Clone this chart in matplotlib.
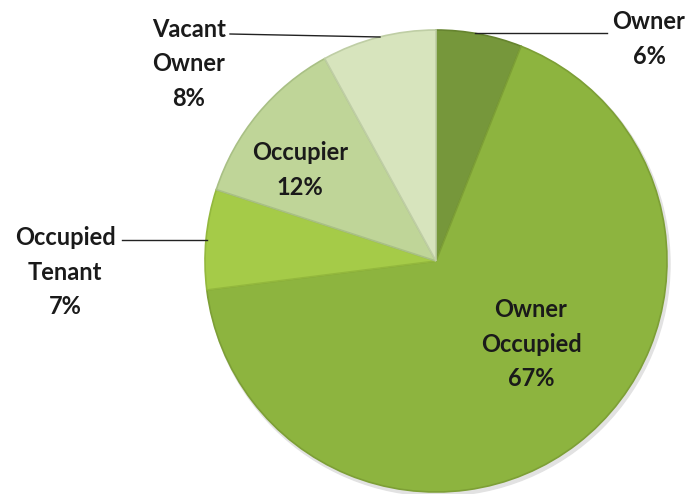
import matplotlib.pyplot as plt

labels = ["Owner", "Owner\nOccupied", "Occupied\nTenant", "Occupier", "Vacant\nOwner"]
shares = [6, 67, 7, 12, 8]
colors = ["#76973b", "#8db43f", "#a5cb48", "#bfd598", "#d7e4bd"]
edges = ["#66842f", "#7d9f36", "#93b83d", "#a9c085", "#bfcea5"]

W, H = 689, 494

def py(y):
    # picture rows run downwards, data y runs upwards
    return H - y

fig = plt.figure(figsize=(W / 100, H / 100), dpi=100)
ax = fig.add_axes([0, 0, 1, 1])

cx, cy, r = 436, py(261), 231

# soft shadow
shadow = plt.Circle((cx + 2, cy - 3), r + 1, color="#e2e2e2", zorder=0)
ax.add_patch(shadow)

wedges, _ = ax.pie(shares, colors=colors, startangle=90, counterclock=False,
                   center=(cx, cy), radius=r, frame=True,
                   wedgeprops=dict(linewidth=1.2))
for w, ec in zip(wedges, edges):
    w.set_edgecolor(ec)
ax.set_xlim(0, W)
ax.set_ylim(0, H)
ax.set_aspect("equal")
ax.axis("off")

font = dict(family=["Lato", "DejaVu Sans"], fontweight="bold", fontsize=17,
            color="#1a1a1a", ha="center", va="center", linespacing=1.62)

# outside labels with leader lines
ax.text(649, py(39), f"{labels[0]}\n{shares[0]}%", **font)
ax.plot([475, 607], [py(33), py(33)], color="#222222", lw=1)

ax.text(189, py(64), f"{labels[4]}\n{shares[4]}%", **font)
ax.plot([230, 380], [py(34), py(37)], color="#222222", lw=1)

ax.text(65, py(272), f"{labels[2]}\n{shares[2]}%", **font)
ax.plot([122, 207], [py(240), py(240)], color="#222222", lw=1)

# inside labels
ax.text(300, py(170), f"{labels[3]}\n{shares[3]}%", **font)
ax.text(531, py(344), f"{labels[1]}\n{shares[1]}%", **font)

fig.savefig("out.png", dpi=100)
